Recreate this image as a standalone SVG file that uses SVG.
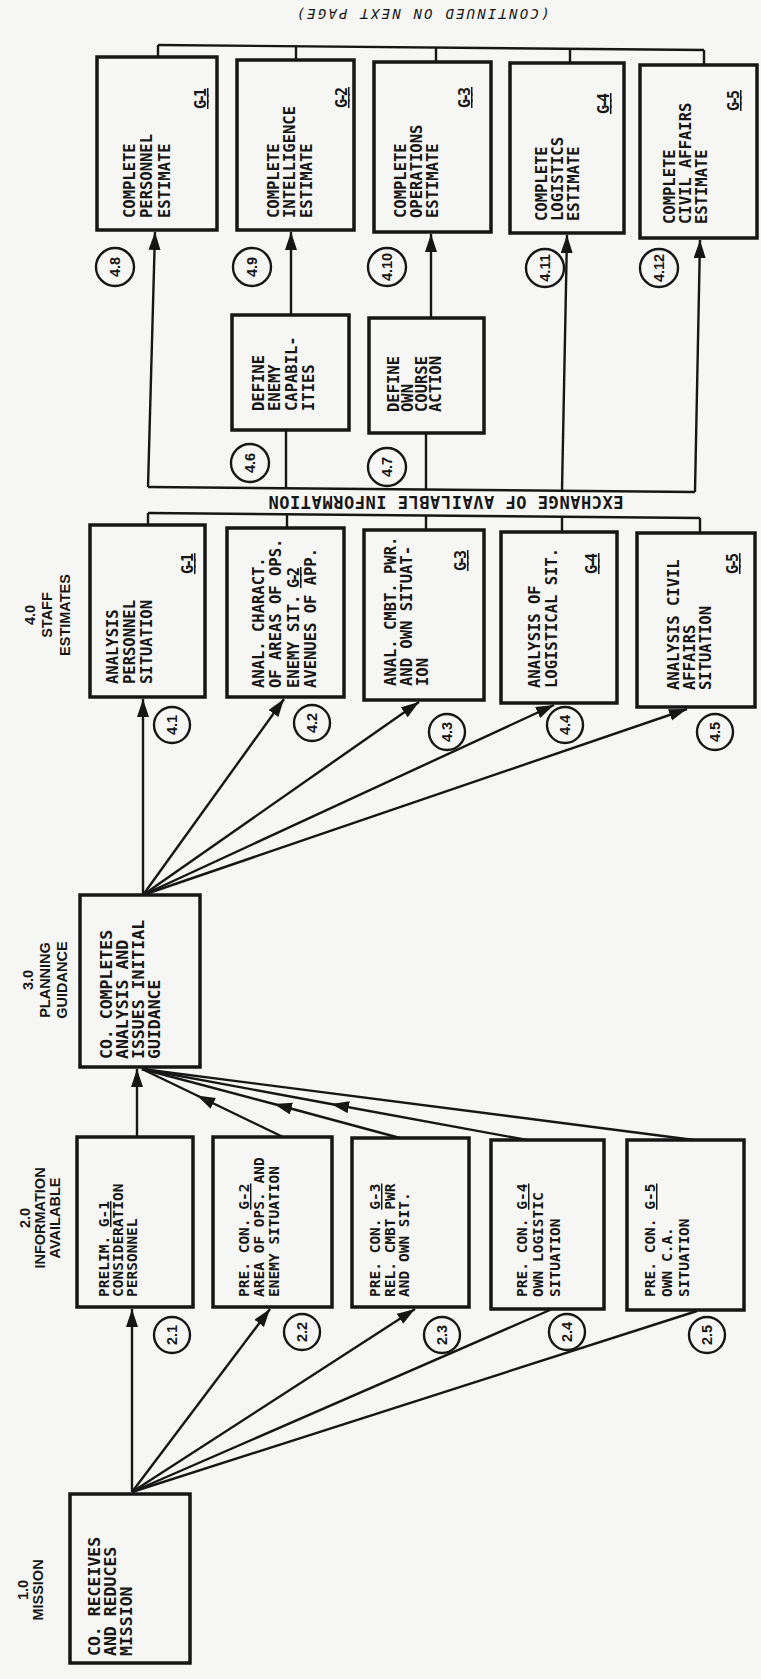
<svg xmlns="http://www.w3.org/2000/svg" width="761" height="1679" viewBox="0 0 761 1679">
<defs>
<marker id="ah" markerUnits="userSpaceOnUse" markerWidth="20" markerHeight="14" refX="18" refY="6" orient="auto"><path d="M0,0 L18,6 L0,12 z" fill="#161616"/></marker>
<style>
.box{fill:none;stroke:#161616;stroke-width:3.5}
.ln{fill:none;stroke:#161616;stroke-width:2.4}
.ar{marker-end:url(#ah)}
.mid{marker-mid:url(#ah)}
.cir{fill:none;stroke:#161616;stroke-width:2.4}
.t{font-family:"DejaVu Sans Mono","Liberation Mono",monospace;font-weight:bold;font-size:15.5px;fill:#161616}
.t2{font-family:"DejaVu Sans Mono","Liberation Mono",monospace;font-weight:bold;font-size:14.5px;fill:#161616}
.tb{font-family:"DejaVu Sans Mono","Liberation Mono",monospace;font-weight:bold;font-size:16.5px;fill:#161616}
.g{font-family:"DejaVu Sans Mono","Liberation Mono",monospace;font-weight:bold;font-size:15px;fill:#161616;text-anchor:end;text-decoration:underline}
.lab{font-family:"Liberation Sans",Arial,sans-serif;font-weight:bold;font-size:14.5px;fill:#161616;text-anchor:middle}
.num{font-family:"Liberation Sans",Arial,sans-serif;font-weight:bold;font-size:14.5px;fill:#161616;text-anchor:middle}
.ban{font-family:"DejaVu Sans Mono","Liberation Mono",monospace;font-weight:bold;font-size:17px;fill:#161616;text-anchor:middle}
.cont{font-family:"DejaVu Sans Mono","Liberation Mono",monospace;font-style:italic;font-size:14px;fill:#161616;text-anchor:middle}
.u{text-decoration:underline}
</style>
</defs>
<rect width="761" height="1679" fill="#f6f6f4"/>

<g id="connectors">
<path class="ln ar" d="M132,1492 L132,1309"/>
<path class="ln ar" d="M132,1492 L270,1309"/>
<path class="ln ar" d="M132,1492 L415,1309"/>
<path class="ln" d="M132,1492 L550,1310"/>
<path class="ln" d="M132,1492 L697,1311"/>
<path class="ln ar" d="M137,1137 L137,1069"/>
<path class="ln mid" d="M283,1137 L197,1095.5 L142,1069"/>
<path class="ln mid" d="M400,1138 L274,1104 L142,1069"/>
<path class="ln mid" d="M527,1140 L331,1104 L142,1069"/>
<path class="ln" d="M694,1140 L142,1069"/>
<path class="ln ar" d="M143,895 L143,699"/>
<path class="ln ar" d="M143,895 L284,699"/>
<path class="ln ar" d="M143,895 L419,702"/>
<path class="ln ar" d="M143,895 L554,705"/>
<path class="ln ar" d="M143,895 L687,709"/>
<path class="ln" d="M148,487 L695,492"/>
<path class="ln" d="M148,513 L700,518"/>
<path class="ln ar" d="M148,487 L155,232"/>
<path class="ln" d="M286,488 L286,430"/>
<path class="ln" d="M426,490 L426,433"/>
<path class="ln ar" d="M562,491 L567,235"/>
<path class="ln ar" d="M695,492 L700,240"/>
<path class="ln" d="M148,513 L148,525"/>
<path class="ln" d="M287,514 L287,528"/>
<path class="ln" d="M426,516 L426,530"/>
<path class="ln" d="M562,517 L562,532"/>
<path class="ln" d="M700,518 L700,533"/>
<path class="ln ar" d="M291,315 L291,232"/>
<path class="ln ar" d="M431,318 L431,234"/>
<path class="ln" d="M158,45 L704,50"/>
<path class="ln" d="M158,45 L158,57"/>
<path class="ln" d="M296,46 L296,60"/>
<path class="ln" d="M436,47 L436,62"/>
<path class="ln" d="M570,49 L570,63"/>
<path class="ln" d="M704,50 L704,65"/>
</g>

<text class="cont" textLength="253" transform="translate(423,9) rotate(180)">(CONTINUED ON NEXT PAGE)</text>
<text class="ban" textLength="355" transform="translate(446,496) rotate(180)">EXCHANGE OF AVAILABLE INFORMATION</text>

<g id="label-1"><text class="lab" transform="translate(0,1590) rotate(-90)"><tspan x="0" y="28">1.0</tspan><tspan x="0" y="43">MISSION</tspan></text></g>
<g id="label-2"><text class="lab" transform="translate(0,1218) rotate(-90)"><tspan x="0" y="30">2.0</tspan><tspan x="0" y="45">INFORMATION</tspan><tspan x="0" y="60">AVAILABLE</tspan></text></g>
<g id="label-3"><text class="lab" transform="translate(0,980) rotate(-90)"><tspan x="0" y="33">3.0</tspan><tspan x="0" y="50">PLANNING</tspan><tspan x="0" y="67">GUIDANCE</tspan></text></g>
<g id="label-4"><text class="lab" transform="translate(0,615) rotate(-90)"><tspan x="0" y="35">4.0</tspan><tspan x="0" y="52">STAFF</tspan><tspan x="0" y="70">ESTIMATES</tspan></text></g>

<g id="n1-0"><rect class="box" x="70" y="1494" width="120" height="169"/>
<text class="tb" transform="translate(100,1656) rotate(-90)"><tspan x="0" y="0">CO. RECEIVES</tspan><tspan x="0" y="16">AND REDUCES</tspan><tspan x="0" y="32">MISSION</tspan></text></g>

<g id="n2-1"><rect class="box" x="77" y="1137" width="116" height="170"/>
<text class="t2" transform="translate(109,1297) rotate(-90)"><tspan x="0" y="0">PRELIM. <tspan class="u">G-1</tspan></tspan><tspan x="0" y="14">CONSIDERATION</tspan><tspan x="0" y="28">PERSONNEL</tspan></text>
<circle class="cir" cx="172" cy="1335" r="18"/><text class="num" transform="translate(172,1335) rotate(-90)" y="5">2.1</text></g>

<g id="n2-2"><rect class="box" x="213" y="1137" width="119" height="170"/>
<text class="t2" transform="translate(249,1297) rotate(-90)"><tspan x="0" y="0">PRE. CON. <tspan class="u">G-2</tspan></tspan><tspan x="0" y="15">AREA OF OPS. AND</tspan><tspan x="0" y="30">ENEMY SITUATION</tspan></text>
<circle class="cir" cx="302" cy="1332" r="18"/><text class="num" transform="translate(302,1332) rotate(-90)" y="5">2.2</text></g>

<g id="n2-3"><rect class="box" x="352" y="1138" width="117" height="169"/>
<text class="t2" transform="translate(380,1297) rotate(-90)"><tspan x="0" y="0">PRE. CON. <tspan class="u">G-3</tspan></tspan><tspan x="0" y="15">REL. CMBT PWR</tspan><tspan x="0" y="29">AND OWN SIT.</tspan></text>
<circle class="cir" cx="442" cy="1335" r="18"/><text class="num" transform="translate(442,1335) rotate(-90)" y="5">2.3</text></g>

<g id="n2-4"><rect class="box" x="491" y="1140" width="113" height="169"/>
<text class="t2" transform="translate(527,1297) rotate(-90)"><tspan x="0" y="0">PRE. CON. <tspan class="u">G-4</tspan></tspan><tspan x="0" y="16">OWN LOGISTIC</tspan><tspan x="0" y="33">SITUATION</tspan></text>
<circle class="cir" cx="567" cy="1332" r="18"/><text class="num" transform="translate(567,1332) rotate(-90)" y="5">2.4</text></g>

<g id="n2-5"><rect class="box" x="627" y="1140" width="117" height="170"/>
<text class="t2" transform="translate(655,1297) rotate(-90)"><tspan x="0" y="0">PRE. CON. <tspan class="u">G-5</tspan></tspan><tspan x="0" y="17">OWN C.A.</tspan><tspan x="0" y="34">SITUATION</tspan></text>
<circle class="cir" cx="707" cy="1335" r="18"/><text class="num" transform="translate(707,1335) rotate(-90)" y="5">2.5</text></g>

<g id="n3-0"><rect class="box" x="80" y="895" width="120" height="172"/>
<text class="tb" transform="translate(112,1059) rotate(-90)"><tspan x="0" y="0">CO. COMPLETES</tspan><tspan x="0" y="16">ANALYSIS AND</tspan><tspan x="0" y="32">ISSUES INITIAL</tspan><tspan x="0" y="48">GUIDANCE</tspan></text></g>

<g id="n4-1"><rect class="box" x="90" y="525" width="115" height="172"/>
<text class="t" transform="translate(118,684) rotate(-90)"><tspan x="0" y="0">ANALYSIS</tspan><tspan x="0" y="17">PERSONNEL</tspan><tspan x="0" y="34">SITUATION</tspan></text>
<text class="g" textLength="21" transform="translate(193,553) rotate(-90)">G-1</text>
<circle class="cir" cx="172" cy="725" r="18"/><text class="num" transform="translate(172,725) rotate(-90)" y="5">4.1</text></g>

<g id="n4-2"><rect class="box" x="227" y="528" width="117" height="169"/>
<text class="t" transform="translate(264,688) rotate(-90)"><tspan x="0" y="0">ANAL. CHARACT.</tspan><tspan x="0" y="17">OF AREAS OF OPS.</tspan><tspan x="0" y="35">ENEMY SIT.</tspan><tspan x="0" y="52">AVENUES OF APP.</tspan></text>
<text class="g" textLength="21" transform="translate(299,567) rotate(-90)">G-2</text>
<circle class="cir" cx="312" cy="723" r="18"/><text class="num" transform="translate(312,723) rotate(-90)" y="5">4.2</text></g>

<g id="n4-3"><rect class="box" x="364" y="530" width="120" height="170"/>
<text class="t" transform="translate(396,686) rotate(-90)"><tspan x="0" y="0">ANAL. CMBT. PWR.</tspan><tspan x="0" y="16">AND OWN SITUAT-</tspan><tspan x="0" y="32">ION</tspan></text>
<text class="g" textLength="21" transform="translate(466,550) rotate(-90)">G-3</text>
<circle class="cir" cx="447" cy="732" r="18"/><text class="num" transform="translate(447,732) rotate(-90)" y="5">4.3</text></g>

<g id="n4-4"><rect class="box" x="501" y="532" width="116" height="171"/>
<text class="t" transform="translate(540,688) rotate(-90)"><tspan x="0" y="0">ANALYSIS OF</tspan><tspan x="0" y="17">LOGISTICAL SIT.</tspan></text>
<text class="g" textLength="21" transform="translate(597,553) rotate(-90)">G-4</text>
<circle class="cir" cx="565" cy="725" r="18"/><text class="num" transform="translate(565,725) rotate(-90)" y="5">4.4</text></g>

<g id="n4-5"><rect class="box" x="637" y="533" width="118" height="174"/>
<text class="t" transform="translate(679,690) rotate(-90)"><tspan x="0" y="0">ANALYSIS CIVIL</tspan><tspan x="0" y="16">AFFAIRS</tspan><tspan x="0" y="32">SITUATION</tspan></text>
<text class="g" textLength="21" transform="translate(738,553) rotate(-90)">G-5</text>
<circle class="cir" cx="715" cy="732" r="18"/><text class="num" transform="translate(715,732) rotate(-90)" y="5">4.5</text></g>

<g id="n4-6"><rect class="box" x="232" y="315" width="117" height="115"/>
<text class="t" transform="translate(264,411) rotate(-90)"><tspan x="0" y="0">DEFINE</tspan><tspan x="0" y="16">ENEMY</tspan><tspan x="0" y="33">CAPABIL-</tspan><tspan x="0" y="50">ITIES</tspan></text>
<circle class="cir" cx="250" cy="463" r="19"/><text class="num" transform="translate(250,463) rotate(-90)" y="5">4.6</text></g>

<g id="n4-7"><rect class="box" x="369" y="318" width="115" height="115"/>
<text class="t" transform="translate(399,412) rotate(-90)"><tspan x="0" y="0">DEFINE</tspan><tspan x="0" y="14">OWN</tspan><tspan x="0" y="28">COURSE</tspan><tspan x="0" y="42">ACTION</tspan></text>
<circle class="cir" cx="387" cy="467" r="19"/><text class="num" transform="translate(387,467) rotate(-90)" y="5">4.7</text></g>

<g id="n4-8"><rect class="box" x="97" y="57" width="120" height="173"/>
<text class="t" transform="translate(135,218) rotate(-90)"><tspan x="0" y="0">COMPLETE</tspan><tspan x="0" y="17">PERSONNEL</tspan><tspan x="0" y="35">ESTIMATE</tspan></text>
<text class="g" textLength="21" transform="translate(206,88) rotate(-90)">G-1</text>
<circle class="cir" cx="115" cy="267" r="19"/><text class="num" transform="translate(115,267) rotate(-90)" y="5">4.8</text></g>

<g id="n4-9"><rect class="box" x="237" y="60" width="117" height="170"/>
<text class="t" transform="translate(279,218) rotate(-90)"><tspan x="0" y="0">COMPLETE</tspan><tspan x="0" y="16">INTELLIGENCE</tspan><tspan x="0" y="33">ESTIMATE</tspan></text>
<text class="g" textLength="21" transform="translate(347,87) rotate(-90)">G-2</text>
<circle class="cir" cx="252" cy="267" r="19"/><text class="num" transform="translate(252,267) rotate(-90)" y="5">4.9</text></g>

<g id="n4-10"><rect class="box" x="374" y="62" width="117" height="170"/>
<text class="t" transform="translate(406,218) rotate(-90)"><tspan x="0" y="0">COMPLETE</tspan><tspan x="0" y="16">OPERATIONS</tspan><tspan x="0" y="32">ESTIMATE</tspan></text>
<text class="g" textLength="21" transform="translate(470,87) rotate(-90)">G-3</text>
<circle class="cir" cx="387" cy="267" r="19"/><text class="num" transform="translate(387,267) rotate(-90)" y="5">4.10</text></g>

<g id="n4-11"><rect class="box" x="510" y="63" width="114" height="170"/>
<text class="t" transform="translate(547,221) rotate(-90)"><tspan x="0" y="0">COMPLETE</tspan><tspan x="0" y="16">LOGISTICS</tspan><tspan x="0" y="32">ESTIMATE</tspan></text>
<text class="g" textLength="21" transform="translate(609,93) rotate(-90)">G-4</text>
<circle class="cir" cx="545" cy="268" r="19"/><text class="num" transform="translate(545,268) rotate(-90)" y="5">4.11</text></g>

<g id="n4-12"><rect class="box" x="640" y="65" width="117" height="173"/>
<text class="t" transform="translate(675,224) rotate(-90)"><tspan x="0" y="0">COMPLETE</tspan><tspan x="0" y="16">CIVIL AFFAIRS</tspan><tspan x="0" y="32">ESTIMATE</tspan></text>
<text class="g" textLength="21" transform="translate(739,90) rotate(-90)">G-5</text>
<circle class="cir" cx="659" cy="268" r="19"/><text class="num" transform="translate(659,268) rotate(-90)" y="5">4.12</text></g>
</svg>
